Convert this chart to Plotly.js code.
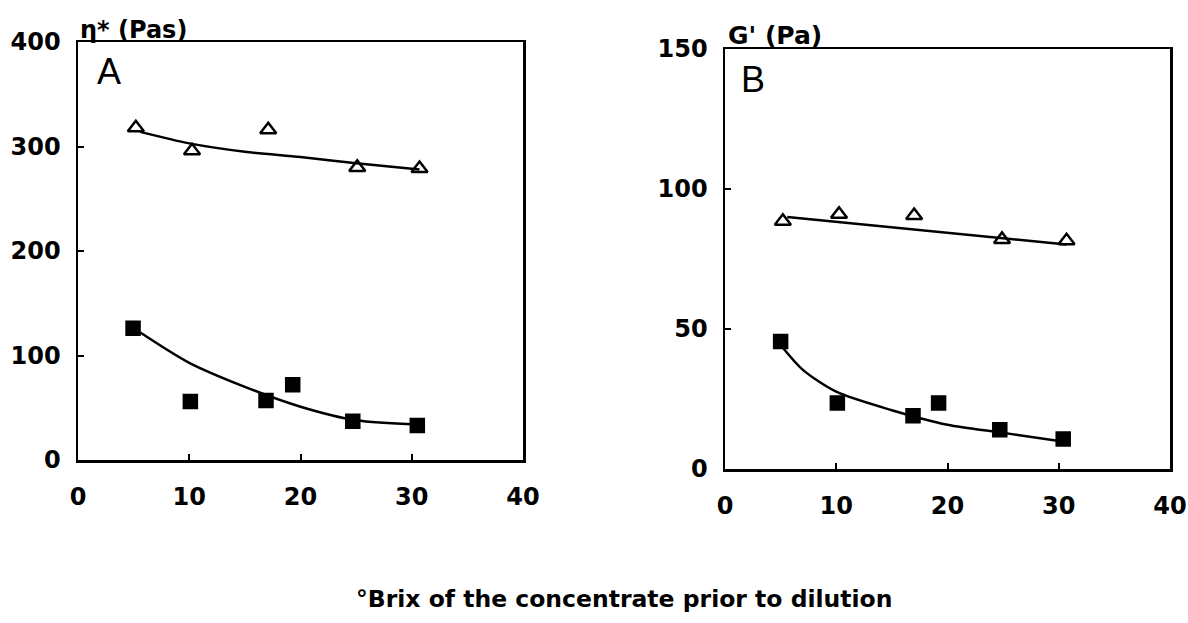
<!DOCTYPE html>
<html>
<head>
<meta charset="utf-8">
<script src="https://cdn.plot.ly/plotly-3.0.1.min.js"></script>
<style>html,body{margin:0;padding:0;background:#fff;}#chart{width:1188px;height:623px;}</style>
</head>
<body>
<div id="chart"></div>
<script>
// Panel A: complex viscosity eta* (Pas)
const aTriX = [5.2, 10.25, 17.1, 25.1, 30.7];
const aTriY = [318, 296, 316, 280, 279];
const aSqX = [4.95, 10.1, 16.9, 19.3, 24.7, 30.5];
const aSqY = [126, 56, 57, 72, 37, 33];
const aTriFitX = [5.6, 10, 15, 20, 25, 30.7];
const aTriFitY = [314, 303, 295, 290, 284, 278];
const aSqFitX = [5.6, 10, 15, 20, 25, 30.5];
const aSqFitY = [122, 93, 70, 51, 38, 34];

// Panel B: storage modulus G' (Pa)
const bTriX = [5.2, 10.25, 17.0, 24.9, 30.7];
const bTriY = [88.5, 91, 90.5, 82, 81.5];
const bSqX = [5.0, 10.1, 16.9, 19.2, 24.7, 30.4];
const bSqY = [45.5, 23.6, 19, 23.6, 14, 10.7];
const bTriFitX = [5.6, 30.7];
const bTriFitY = [90, 80.2];
const bSqFitX = [5.2, 7, 10, 15, 20, 25, 30.5];
const bSqFitY = [43.3, 35.4, 27.6, 21, 15.8, 12.9, 9.7];

const xTicks = [0, 10, 20, 30, 40];
const aYTicks = [0, 100, 200, 300, 400];
const bYTicks = [0, 50, 100, 150];

const W = 1188, H = 623;
const px = v => v / W;
const py = v => 1 - v / H;

const lineStyle = {color: '#000', width: 2.5, shape: 'spline', smoothing: 0.8};
const triMarker = {symbol: 'triangle-up-open', size: 14, color: '#000', line: {color: '#000', width: 2.5}};
const sqMarker = {symbol: 'square', size: 14, color: '#000', line: {color: '#000', width: 1.5}};

const traces = [
  {x: aTriFitX, y: aTriFitY, mode: 'lines', line: lineStyle, xaxis: 'x', yaxis: 'y', hoverinfo: 'skip'},
  {x: aSqFitX, y: aSqFitY, mode: 'lines', line: lineStyle, xaxis: 'x', yaxis: 'y', hoverinfo: 'skip'},
  {x: aTriX, y: aTriY, mode: 'markers', marker: triMarker, xaxis: 'x', yaxis: 'y'},
  {x: aSqX, y: aSqY, mode: 'markers', marker: sqMarker, xaxis: 'x', yaxis: 'y'},
  {x: bTriFitX, y: bTriFitY, mode: 'lines', line: lineStyle, xaxis: 'x2', yaxis: 'y2', hoverinfo: 'skip'},
  {x: bSqFitX, y: bSqFitY, mode: 'lines', line: lineStyle, xaxis: 'x2', yaxis: 'y2', hoverinfo: 'skip'},
  {x: bTriX, y: bTriY, mode: 'markers', marker: triMarker, xaxis: 'x2', yaxis: 'y2'},
  {x: bSqX, y: bSqY, mode: 'markers', marker: sqMarker, xaxis: 'x2', yaxis: 'y2'}
];

const tickFont = {family: 'DejaVu Sans', size: 24, color: '#000', weight: 'bold'};
function xAxis(domain, anchor) {
  return {
    domain: domain, anchor: anchor, range: [0, 40], tickvals: xTicks, ticktext: xTicks.map(String),
    showline: true, mirror: true, linecolor: '#000', linewidth: 2.5,
    ticks: 'inside', ticklen: 6, tickwidth: 2, tickcolor: '#000',
    showgrid: false, zeroline: false, tickfont: tickFont, ticklabelstandoff: 14, fixedrange: true
  };
}
function yAxis(domain, anchor, range, vals) {
  return {
    domain: domain, anchor: anchor, range: range, tickvals: vals, ticktext: vals.map(String),
    showline: true, mirror: true, linecolor: '#000', linewidth: 2.5,
    ticks: 'inside', ticklen: 6, tickwidth: 2, tickcolor: '#000',
    showgrid: false, zeroline: false, tickfont: tickFont, ticklabelstandoff: 10, fixedrange: true
  };
}

const layout = {
  width: W, height: H, showlegend: false,
  paper_bgcolor: '#fff', plot_bgcolor: '#fff',
  margin: {l: 0, r: 0, t: 0, b: 0},
  xaxis: xAxis([px(78), px(523)], 'y'),
  yaxis: yAxis([py(460), py(42)], 'x', [0, 400], aYTicks),
  xaxis2: xAxis([px(725), px(1170)], 'y2'),
  yaxis2: yAxis([py(469), py(49)], 'x2', [0, 150], bYTicks),
  annotations: [
    {text: 'η* (Pas)', xref: 'paper', yref: 'paper', x: px(78), y: py(30), xanchor: 'left', yanchor: 'middle', showarrow: false,
     font: {family: 'DejaVu Sans', size: 24, color: '#000', weight: 'bold'}},
    {text: "G' (Pa)", xref: 'paper', yref: 'paper', x: px(726), y: py(35), xanchor: 'left', yanchor: 'middle', showarrow: false,
     font: {family: 'DejaVu Sans', size: 25, color: '#000', weight: 'bold'}},
    {text: 'A', xref: 'paper', yref: 'paper', x: px(95), y: py(71), xanchor: 'left', yanchor: 'middle', showarrow: false,
     font: {family: 'Liberation Sans', size: 36, color: '#000'}},
    {text: 'B', xref: 'paper', yref: 'paper', x: px(739), y: py(80), xanchor: 'left', yanchor: 'middle', showarrow: false,
     font: {family: 'Liberation Sans', size: 36, color: '#000'}},
    {text: '°Brix of the concentrate prior to dilution', xref: 'paper', yref: 'paper', x: px(624), y: py(599), xanchor: 'center', yanchor: 'middle', showarrow: false,
     font: {family: 'DejaVu Sans', size: 23.5, color: '#000', weight: 'bold'}}
  ]
};

Plotly.newPlot('chart', traces, layout, {displayModeBar: false, staticPlot: true});
</script>
</body>
</html>
